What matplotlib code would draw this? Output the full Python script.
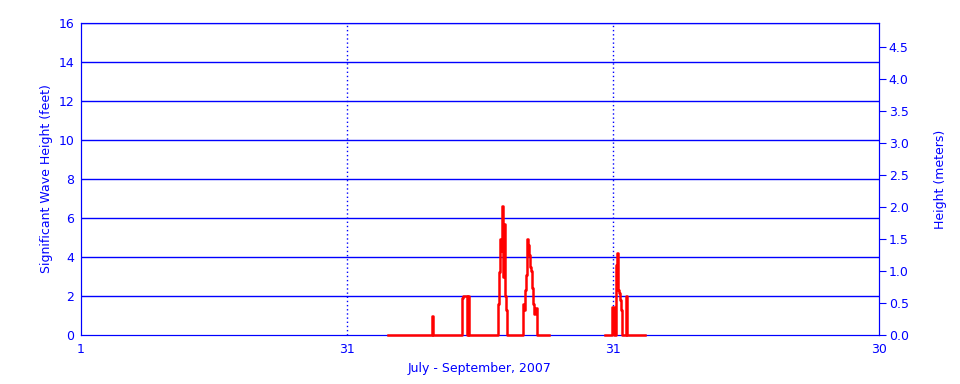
import matplotlib.pyplot as plt
import numpy as np

# days since July 1 (x axis runs 0..90, three equal parts) and wave height in feet
days = [34.60, 39.55, 39.65, 42.92, 43.11, 43.49, 43.60, 43.71,
        47.06, 47.17, 47.25, 47.37, 47.48, 47.62, 47.70, 47.85, 47.92, 48.00,
        49.88, 49.96, 50.07, 50.15, 50.26, 50.34, 50.45, 50.52, 50.63, 50.71,
        50.82, 50.90, 51.01, 51.13, 51.24, 51.47, 52.81,
        59.10, 59.88, 60.11, 60.34, 60.45, 60.60, 60.71, 60.79, 60.90, 61.01,
        61.46, 61.61, 63.61]
feet = [0.0, 1.0, 0.0, 1.9, 2.0, 0.0, 2.0, 0.0,
        1.6, 3.25, 4.9, 4.3, 6.6, 3.0, 5.7, 2.0, 1.3, 0.0,
        1.6, 1.3, 2.3, 3.1, 4.6, 4.9, 4.6, 4.1, 3.5, 3.3,
        3.0, 2.4, 1.6, 1.1, 1.4, 0.0, np.nan,
        0.0, 1.45, 0.0, 3.6, 4.2, 2.3, 2.15, 1.8, 1.3, 0.0,
        2.0, 0.0, 0.0]

tick_pos = [0, 30, 60, 90]
tick_labels = ["1", "31", "31", "30"]

blue = "#0000ff"
plt.rcParams['font.family'] = 'DejaVu Sans'
plt.rcParams['font.size'] = 9

fig = plt.figure(figsize=(9.6, 3.84), dpi=100)
ax = fig.add_axes([0.084375, 0.1276, 0.83125, 0.8125])

ax.set_xlim(0, 90)
ax.set_ylim(0, 16)
ax.set_yticks(range(0, 17, 2))
ax.set_xticks(tick_pos)
ax.set_xticklabels(tick_labels)
ax.tick_params(axis='both', length=0, colors=blue, labelsize=9)
ax.tick_params(axis='y', pad=5)
ax.tick_params(axis='x', pad=6)
for s in ax.spines.values():
    s.set_color(blue)

# grid
for v in range(2, 17, 2):
    ax.axhline(v, color=blue, lw=1, zorder=1)
for d in [30, 60]:
    ax.axvline(d, color=blue, lw=1, ls=(0, (1, 2)), zorder=1)

ax.plot(days, feet, color="red", lw=1.8, drawstyle="steps-post",
        zorder=5, clip_on=False)

ax.set_ylabel("Significant Wave Height (feet)", color=blue, fontsize=9, labelpad=4)
ax.set_xlabel("July - September, 2007", color=blue, fontsize=9, labelpad=4)

ax2 = ax.twinx()
ax2.set_ylim(0, 16 * 0.3048)
ax2.set_yticks(np.arange(0, 4.6, 0.5))
ax2.set_yticklabels([f"{v:.1f}" for v in np.arange(0, 4.6, 0.5)])
ax2.tick_params(axis='y', length=5, colors=blue, labelsize=9, pad=2)
for s in ax2.spines.values():
    s.set_color(blue)
ax2.set_ylabel("Height (meters)", color=blue, fontsize=9, labelpad=18)
ax.set_zorder(ax2.get_zorder() + 1)
ax.patch.set_visible(False)

plt.savefig("out.png", dpi=100)
